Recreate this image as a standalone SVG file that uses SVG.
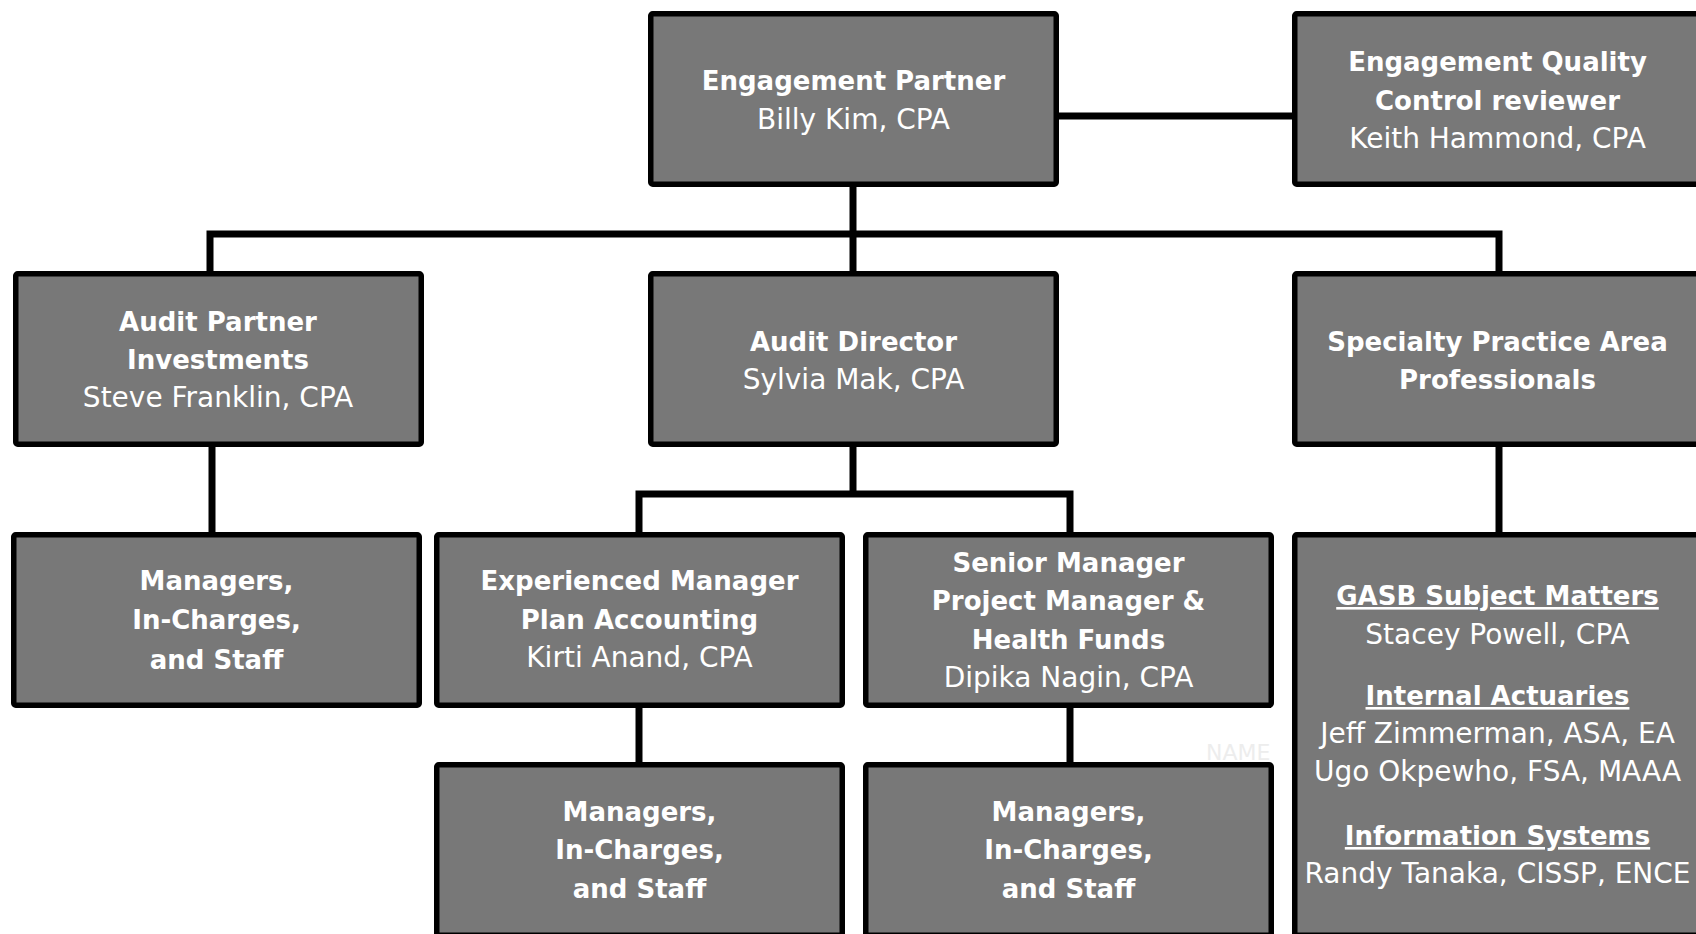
<svg xmlns="http://www.w3.org/2000/svg" width="1696" height="934" viewBox="0 0 1696 934">
<style>
.box{fill:#787878;stroke:#000;stroke-width:5.5;stroke-linejoin:round}
.b{font-family:"DejaVu Sans",Verdana,sans-serif;font-weight:bold;font-size:26px;fill:#fff;text-anchor:middle}
.r{font-family:"DejaVu Sans",Verdana,sans-serif;font-size:28px;fill:#fff;text-anchor:middle}
.u{text-decoration:underline}
.conn{fill:none;stroke:#000;stroke-width:7;stroke-linejoin:miter;stroke-linecap:butt}
.ghost{font-family:"DejaVu Sans",Verdana,sans-serif;font-size:22px;fill:#ededed}
</style>
<rect width="1696" height="934" fill="#fff"/>
<text class="ghost" x="1206" y="760">NAME</text>
<g id="connectors" class="conn">
<path d="M853 180V234"/>
<path d="M210 276V234H1499V276"/>
<path d="M853 234V276"/>
<path d="M1055 116H1296"/>
<path d="M212 440V536"/>
<path d="M853 440V494"/>
<path d="M639 536V494H1070V536"/>
<path d="M639 700V766"/>
<path d="M1070 700V766"/>
<path d="M1499 440V536"/>
</g>
<g id="engagement-partner">
<rect class="box" x="650.75" y="13.75" width="405.5" height="170.5" rx="2"/>
<text class="b" x="853.5" y="90">Engagement Partner</text>
<text class="r" x="853.5" y="128.5">Billy Kim, CPA</text>
</g>
<g id="eqcr">
<rect class="box" x="1294.75" y="13.75" width="405.5" height="170.5" rx="2"/>
<text class="b" x="1497.5" y="71">Engagement Quality</text>
<text class="b" x="1497.5" y="109.5">Control reviewer</text>
<text class="r" x="1497.5" y="148">Keith Hammond, CPA</text>
</g>
<g id="audit-partner">
<rect class="box" x="15.75" y="273.75" width="405.5" height="170.5" rx="2"/>
<text class="b" x="218" y="331">Audit Partner</text>
<text class="b" x="218" y="369">Investments</text>
<text class="r" x="218" y="407">Steve Franklin, CPA</text>
</g>
<g id="audit-director">
<rect class="box" x="650.75" y="273.75" width="405.5" height="170.5" rx="2"/>
<text class="b" x="853.5" y="350.5">Audit Director</text>
<text class="r" x="853.5" y="389">Sylvia Mak, CPA</text>
</g>
<g id="specialty">
<rect class="box" x="1294.75" y="273.75" width="405.5" height="170.5" rx="2"/>
<text class="b" x="1497.5" y="350.5">Specialty Practice Area</text>
<text class="b" x="1497.5" y="389">Professionals</text>
</g>
<g id="managers-ap">
<rect class="box" x="13.75" y="534.75" width="405.5" height="170.5" rx="2"/>
<text class="b" x="216.5" y="589.5">Managers,</text>
<text class="b" x="216.5" y="629">In-Charges,</text>
<text class="b" x="216.5" y="668.5">and Staff</text>
</g>
<g id="experienced-manager">
<rect class="box" x="436.75" y="534.75" width="405.5" height="170.5" rx="2"/>
<text class="b" x="639.5" y="590">Experienced Manager</text>
<text class="b" x="639.5" y="628.5">Plan Accounting</text>
<text class="r" x="639.5" y="667">Kirti Anand, CPA</text>
</g>
<g id="senior-manager">
<rect class="box" x="865.75" y="534.75" width="405.5" height="170.5" rx="2"/>
<text class="b" x="1068.5" y="571.5">Senior Manager</text>
<text class="b" x="1068.5" y="610">Project Manager &amp;</text>
<text class="b" x="1068.5" y="648.5">Health Funds</text>
<text class="r" x="1068.5" y="687">Dipika Nagin, CPA</text>
</g>
<g id="specialists">
<rect class="box" x="1294.75" y="534.75" width="405.5" height="400.5" rx="2"/>
<text class="b u" x="1497.5" y="605">GASB Subject Matters</text>
<text class="r" x="1497.5" y="644">Stacey Powell, CPA</text>
<text class="b u" x="1497.5" y="705">Internal Actuaries</text>
<text class="r" x="1497.5" y="743">Jeff Zimmerman, ASA, EA</text>
<text class="r" x="1497.5" y="781">Ugo Okpewho, FSA, MAAA</text>
<text class="b u" x="1497.5" y="845">Information Systems</text>
<text class="r" x="1497.5" y="883">Randy Tanaka, CISSP, ENCE</text>
</g>
<g id="managers-em">
<rect class="box" x="436.75" y="764.75" width="405.5" height="170.5" rx="2"/>
<text class="b" x="639.5" y="820.5">Managers,</text>
<text class="b" x="639.5" y="859">In-Charges,</text>
<text class="b" x="639.5" y="897.5">and Staff</text>
</g>
<g id="managers-sm">
<rect class="box" x="865.75" y="764.75" width="405.5" height="170.5" rx="2"/>
<text class="b" x="1068.5" y="820.5">Managers,</text>
<text class="b" x="1068.5" y="859">In-Charges,</text>
<text class="b" x="1068.5" y="897.5">and Staff</text>
</g>
</svg>
